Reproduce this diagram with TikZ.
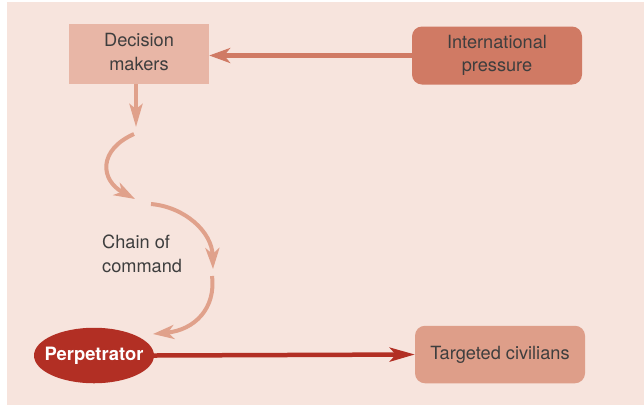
\documentclass[tikz,border=0pt]{standalone}
\usepackage{fontspec}
\setmainfont{TeX Gyre Heros}
\usetikzlibrary{arrows.meta,shapes.geometric}
\definecolor{bgc}{HTML}{F7E4DD}
\definecolor{dmc}{HTML}{E8B6A6}
\definecolor{ipc}{HTML}{D07A64}
\definecolor{arcc}{HTML}{E0A18B}
\definecolor{tcc}{HTML}{DE9E89}
\definecolor{perpc}{HTML}{B22F24}
\definecolor{txtc}{HTML}{3E3E3E}
\begin{document}
\begin{tikzpicture}[x=1pt,y=-1pt,
  lbl/.style={font=\fontsize{18.2}{23.5}\selectfont, text=txtc, align=center, inner sep=0pt},
  rbox/.style={lbl, rounded corners=10pt, minimum width=170pt},
  arcarrow/.style={line width=4pt, arcc, -{Stealth[length=21pt,width=14pt,inset=6pt]}}]
\useasboundingbox (0,0) rectangle (644,408);
\fill[bgc] (7,2) rectangle (644,405);
% nodes
\node[fill=dmc, minimum width=140pt, minimum height=60pt, inner sep=0pt] (dm) at (139,54) {};
\node[lbl] (dmtext) at (139,52) {Decision\\makers};
\node[rbox, fill=ipc, minimum height=58pt] (ip) at (497,55.5) {International\\pressure};
\node[rbox, fill=tcc, minimum height=57.5pt] (tc) at (500,354.5) {Targeted civilians};
\node[ellipse, fill=perpc, minimum width=120pt, minimum height=55.5pt, inner sep=0pt] (pp) at (94,355.5) {};
\node[text=white, inner sep=0pt, font=\fontsize{18.4}{20}\selectfont\bfseries] (pptext) at (pp) {Perpetrator};
\node[lbl, align=left, anchor=west] (cc) at (102,254) {Chain of\\command};
% coordinates for the chain
\coordinate (c0) at (136,127);
\coordinate (a1) at (134,134);
\coordinate (b1) at (135,199);
\coordinate (a2) at (151,204);
\coordinate (b2) at (213,269);
\coordinate (a3) at (212,276);
\coordinate (b3) at (153,334);
% connectors
\draw[line width=5pt, ipc, -{Stealth[length=21pt,width=15pt,inset=6pt]}] (ip.west) -- (ip.west -| dm.east);
\draw[line width=4pt, arcc, -{Stealth[length=23pt,width=13pt,inset=5pt]}] ([xshift=-3pt]dm.south) -- (c0);
\draw[arcarrow] (a1) .. controls (98,150) and (100,180) .. (b1);
\draw[arcarrow] (a2) .. controls (185,207) and (212,232) .. (b2);
\draw[arcarrow] (a3) .. controls (216,308) and (195,330) .. (b3);
\draw[line width=4.5pt, perpc, -{Stealth[length=25pt,width=14pt,inset=6pt]}] (pp.east) -- (tc.west);
\end{tikzpicture}
\end{document}
